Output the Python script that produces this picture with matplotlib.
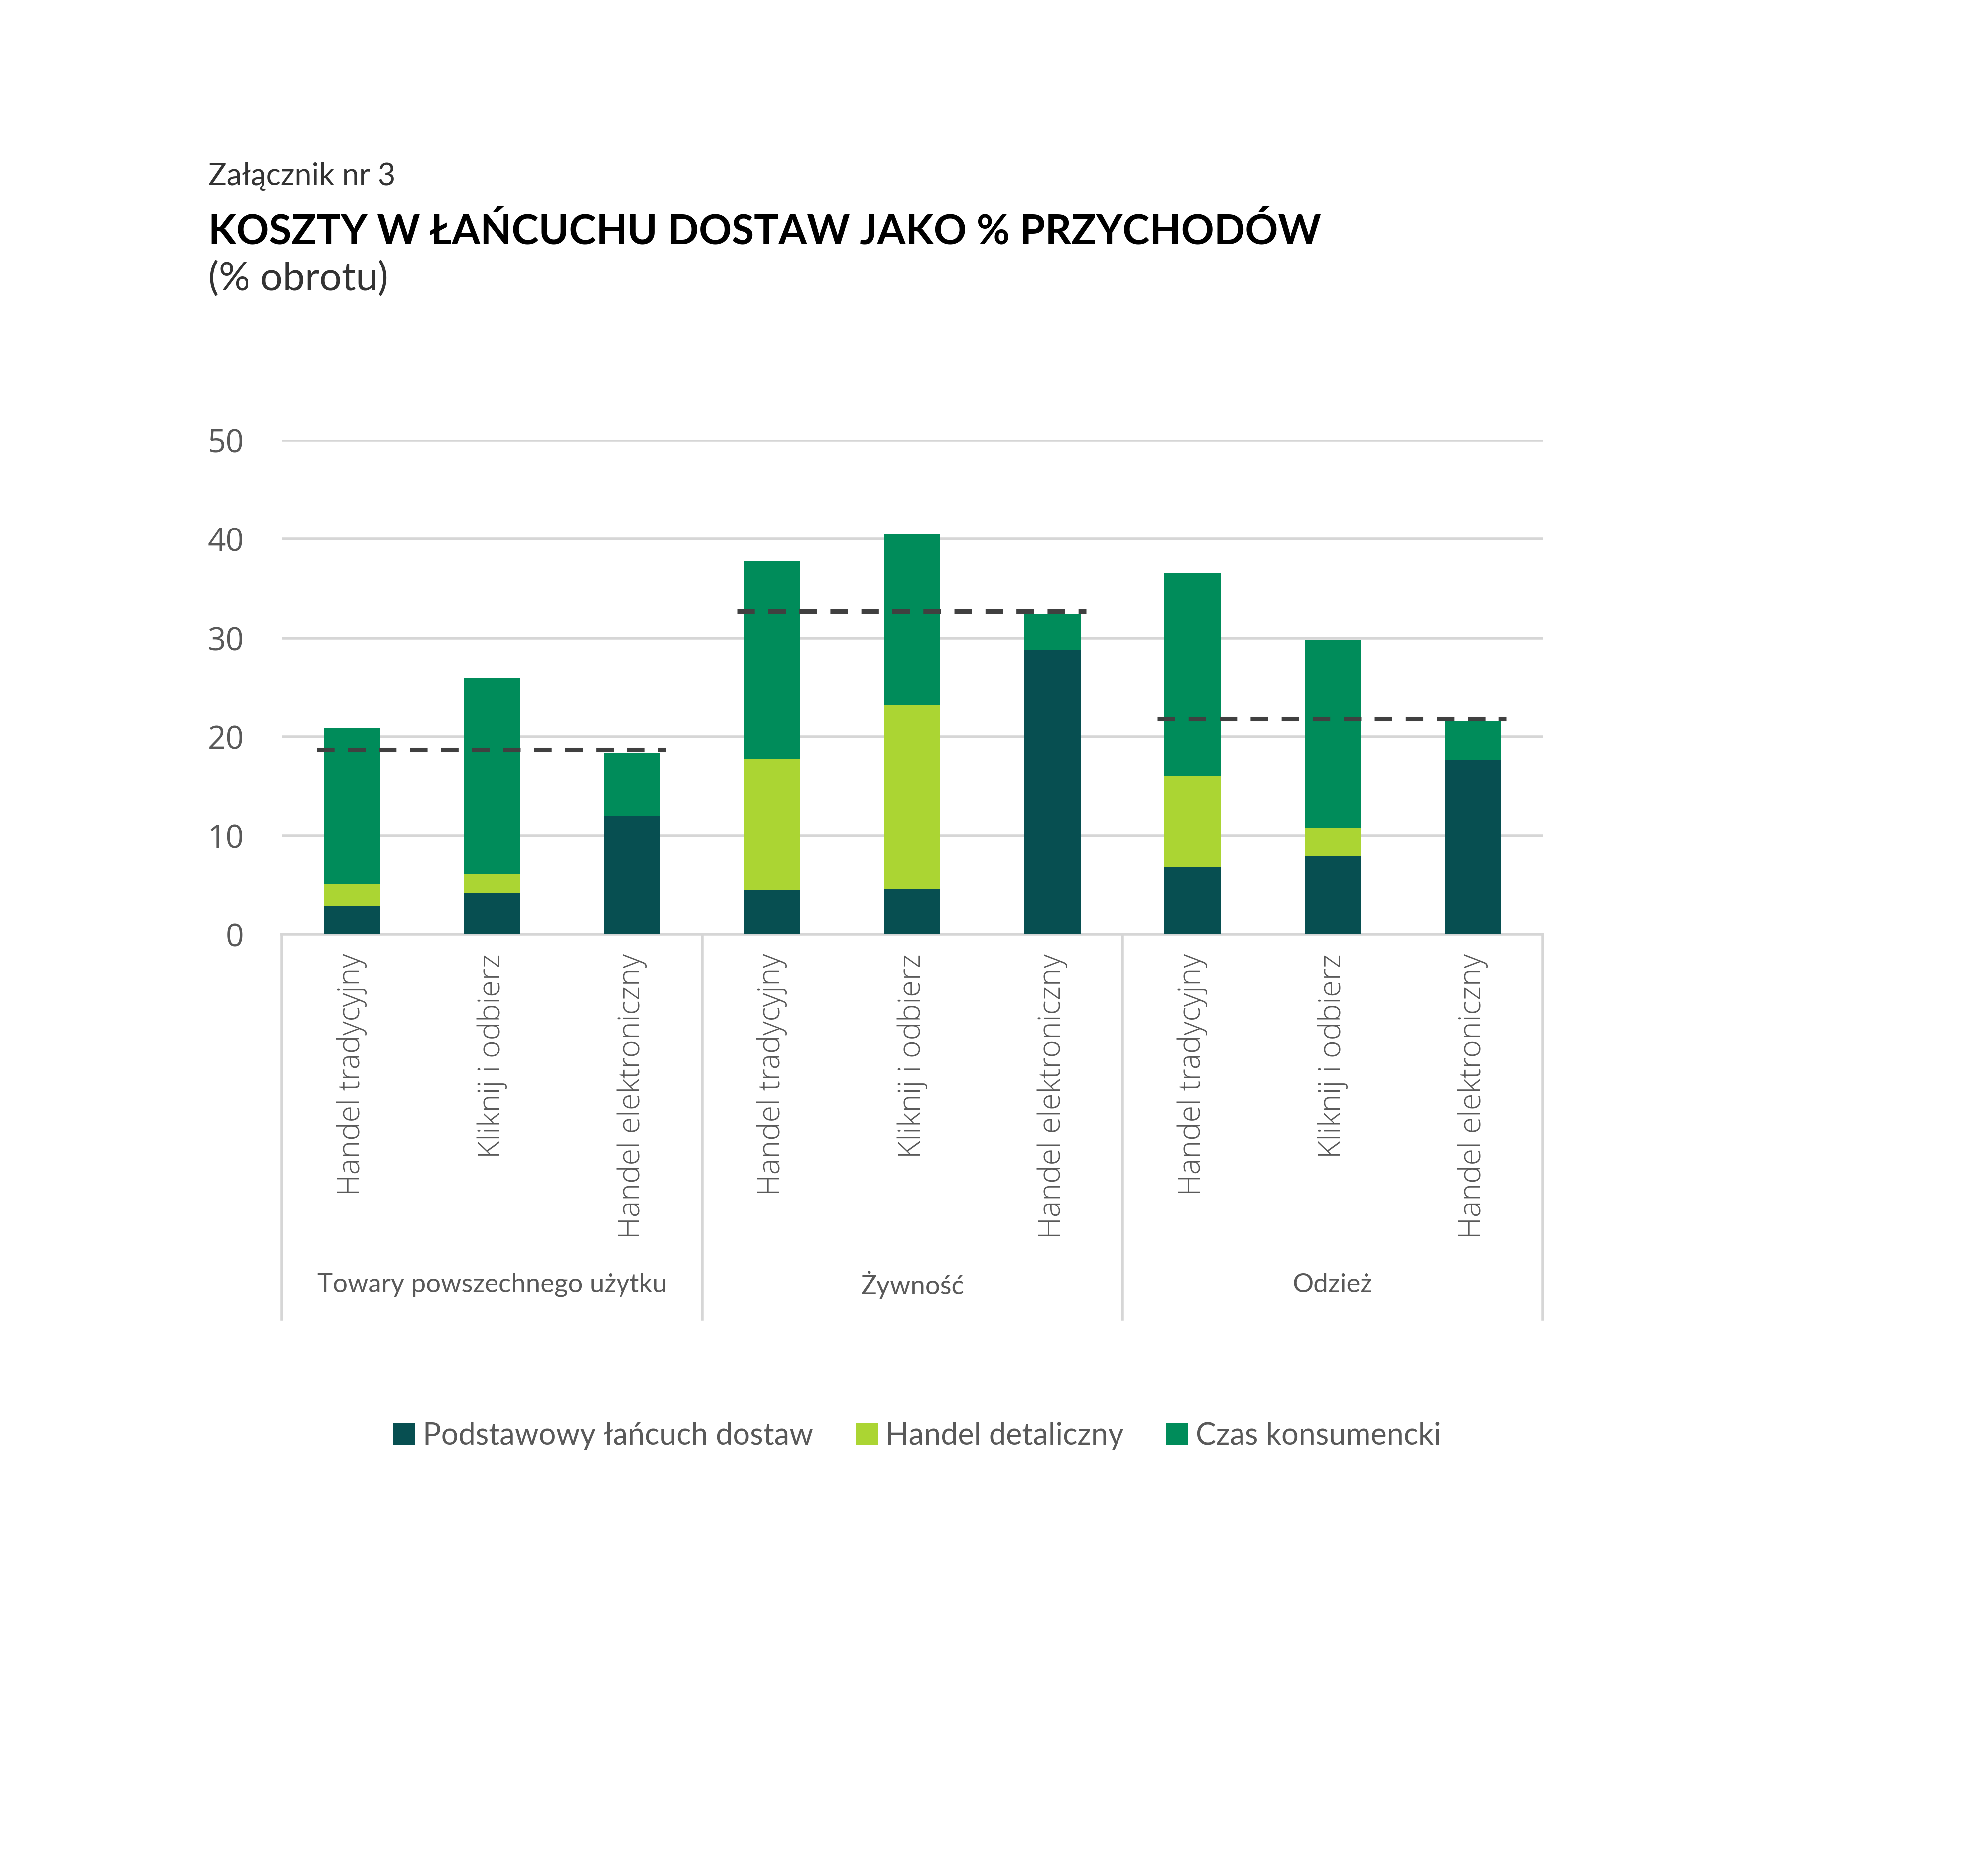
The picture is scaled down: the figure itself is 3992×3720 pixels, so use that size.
import numpy as np
import matplotlib.pyplot as plt
from matplotlib.patches import Patch

# data
groups = ['Towary powszechnego użytku', 'Żywność', 'Odzież']
channels = ['Handel tradycyjny', 'Kliknij i odbierz', 'Handel elektroniczny']
series_names = ['Podstawowy łańcuch dostaw', 'Handel detaliczny', 'Czas konsumencki']

supply = [2.9, 4.2, 12.0, 4.5, 4.6, 28.8, 6.8, 7.9, 17.7]
retail = [2.2, 1.9, 0.0, 13.3, 18.6, 0.0, 9.3, 2.9, 0.0]
consumer = [15.8, 19.8, 6.4, 20.0, 17.3, 3.6, 20.5, 19.0, 3.9]
group_avg = [18.7, 32.7, 21.8]

colors = ['#074f51', '#abd533', '#008c5a']
txt = '#595959'
grid_c = '#d6d6d6'

W, H = 3992, 3720
fig = plt.figure(figsize=(W / 100, H / 100), dpi=100)

# header texts
fig.text(418 / W, 1 - 372 / H, 'Załącznik nr 3', family='Lato',
         fontsize=44, color='#333333', va='baseline')
fig.text(418 / W, 1 - 489 / H, 'KOSZTY W ŁAŃCUCHU DOSTAW JAKO % PRZYCHODÓW', family='Lato',
         weight='bold', fontsize=59, color='black', va='baseline')
fig.text(418 / W, 1 - 583 / H, '(% obrotu)', family='Lato',
         fontsize=57, color='#333333', va='baseline')

left, right, top, bottom = 566, 3098, 884, 1876
ax = fig.add_axes([left / W, 1 - bottom / H, (right - left) / W, (bottom - top) / H])

x = np.arange(len(supply))
bw = 0.4
s = np.array(supply)
r = np.array(retail)
c = np.array(consumer)
ax.bar(x, s, bw, color=colors[0], zorder=3)
ax.bar(x, r, bw, bottom=s, color=colors[1], zorder=3)
ax.bar(x, c, bw, bottom=s + r, color=colors[2], zorder=3)

# dashed group averages
for g, v in enumerate(group_avg):
    ax.plot([g * 3 - 0.25, g * 3 + 2.24], [v, v], color='#404040', lw=6.5,
            linestyle=(0, (3.9, 3.0)), zorder=4, solid_capstyle='butt')

ax.set_xlim(-0.5, 8.5)
ax.set_ylim(0, 50)
ax.set_yticks(range(0, 51, 10))
ax.yaxis.grid(True, color=grid_c, lw=4, zorder=0)
ax.set_axisbelow(True)
for sp in ['top', 'right', 'left']:
    ax.spines[sp].set_visible(False)
ax.spines['bottom'].set_color(grid_c)
ax.spines['bottom'].set_linewidth(4)
ax.tick_params(axis='y', length=0, pad=55, labelsize=46, labelcolor=txt)
for lab in ax.get_yticklabels():
    lab.set_family('Open Sans')

ax.set_xticks(x)
ax.set_xticklabels(channels * 3, rotation=90, fontsize=44, color=txt, family='Open Sans',
                   weight='light')
ax.tick_params(axis='x', length=0, pad=28)

# group separators and labels below the axis
ext = (2648 - bottom) / (bottom - top)
for xs in [-0.5, 2.5, 5.5, 8.5]:
    ax.plot([xs, xs], [0, -ext * 50], color=grid_c, lw=4, clip_on=False)
for g, name in enumerate(groups):
    ax.text(g * 3 + 1, -(2579 - bottom) / (bottom - top) * 50, name, ha='center', va='center',
            fontsize=38, color=txt, family='Lato')

handles = [Patch(facecolor=col, edgecolor='none') for col in colors]
fig.legend(handles, series_names, loc='center', bbox_to_anchor=(1842 / W, 1 - 2882 / H),
           ncol=3, frameon=False, handlelength=0.72, handleheight=0.72,
           handletextpad=0.25, columnspacing=1.4, labelcolor=txt,
           prop={'family': 'Lato', 'size': 44})

fig.savefig('out.png', dpi=100, facecolor='white')
